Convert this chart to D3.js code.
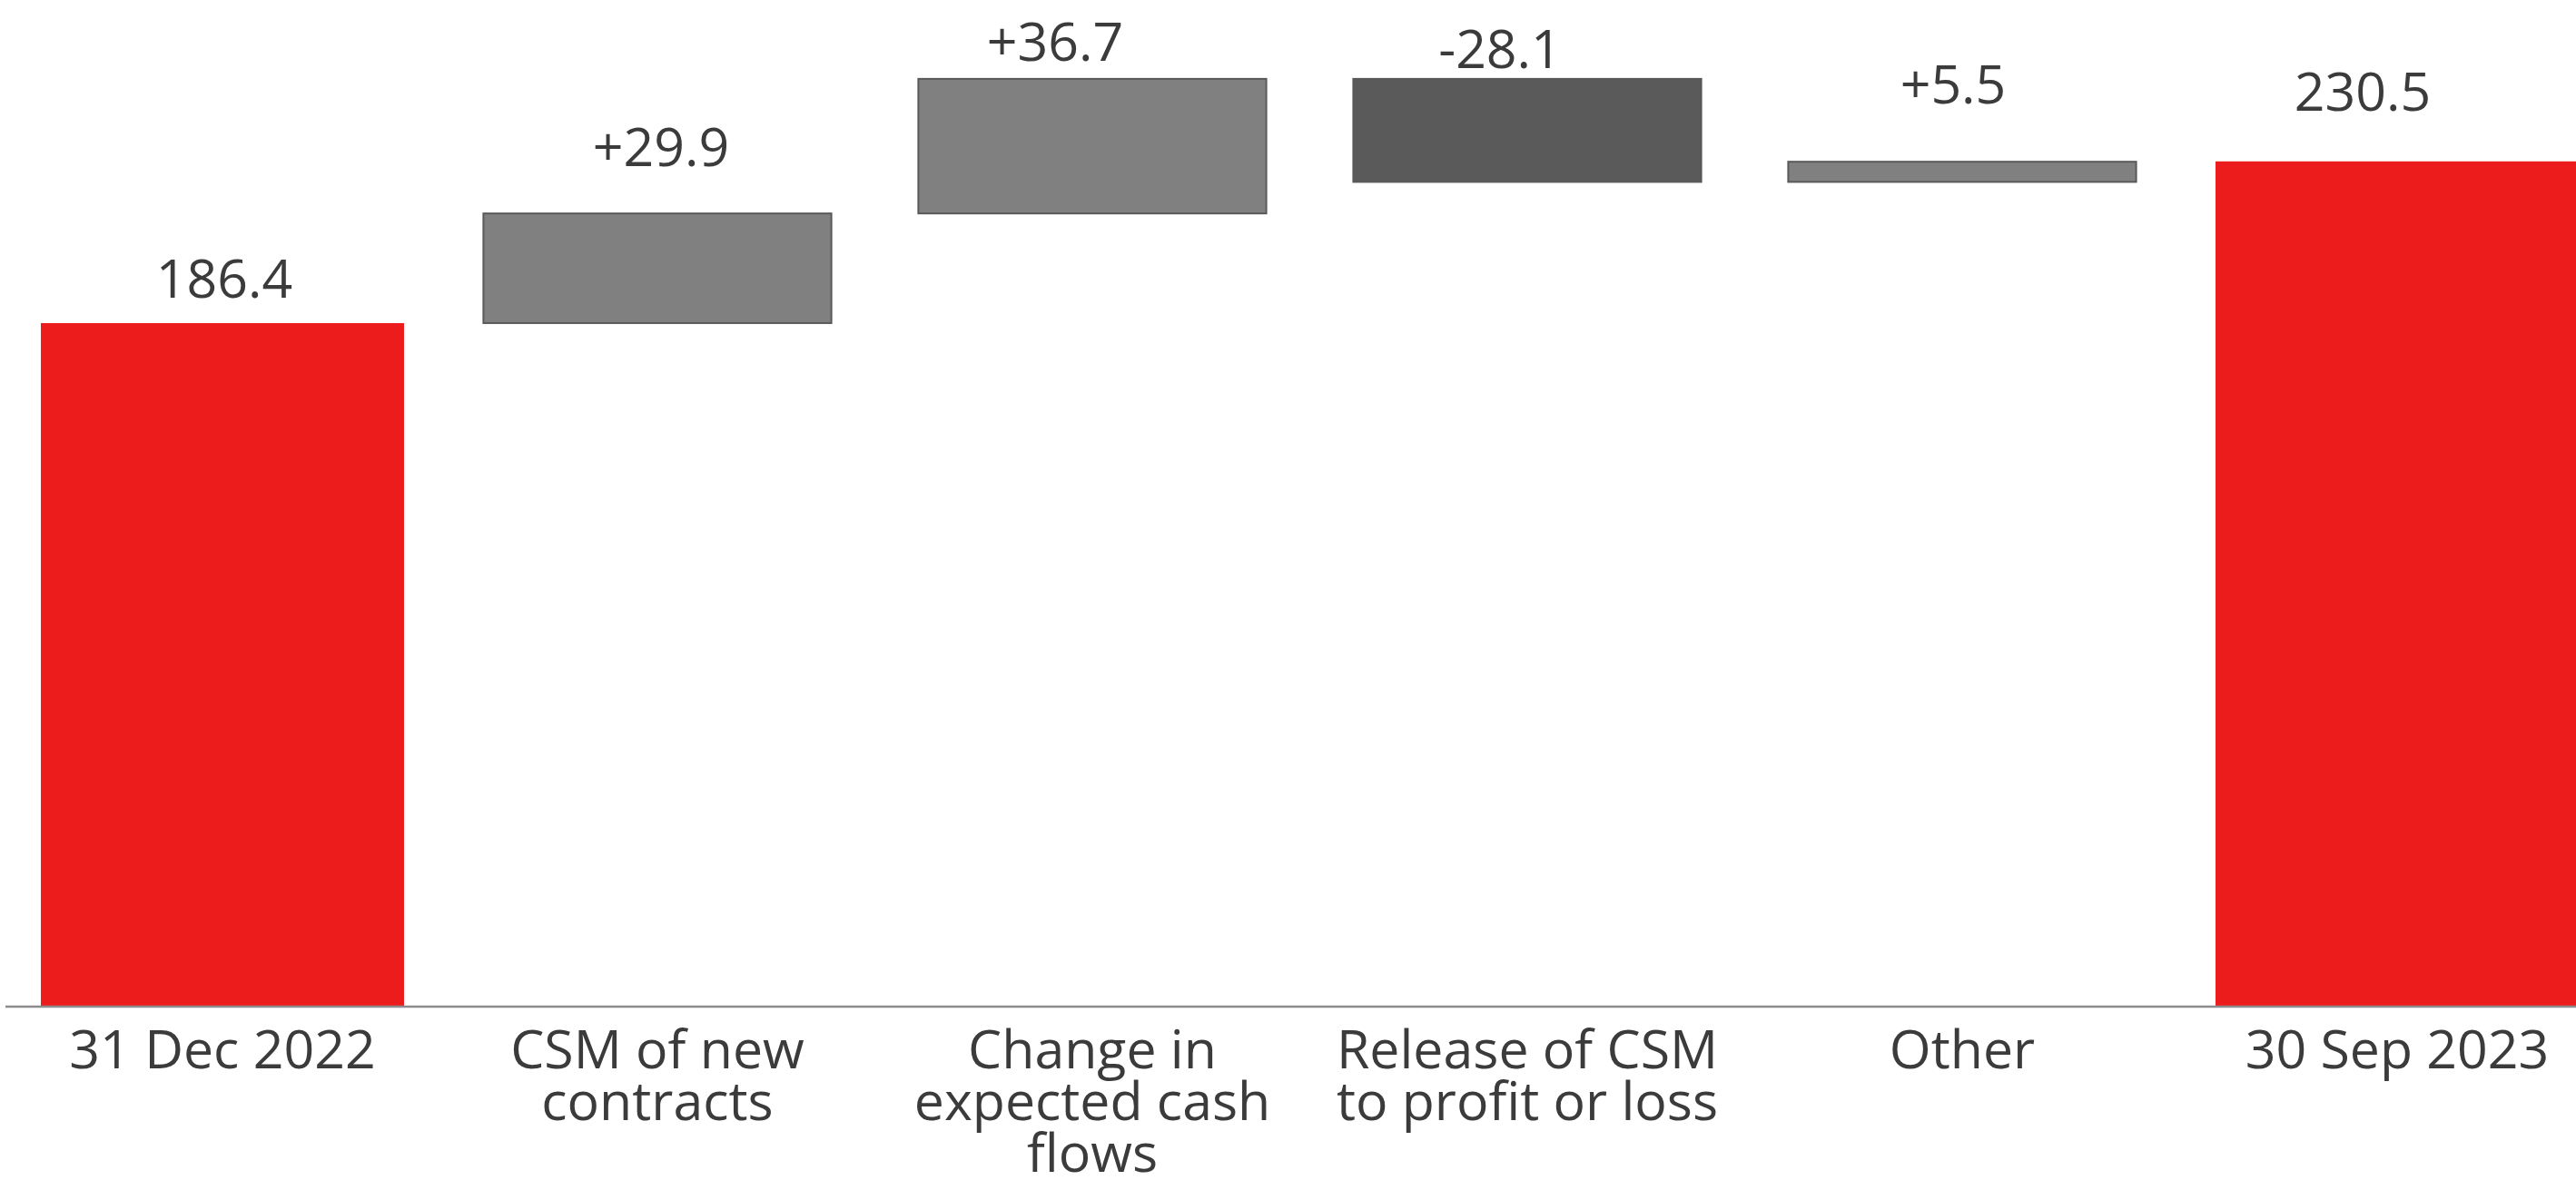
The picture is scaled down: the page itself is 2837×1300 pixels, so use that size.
<!DOCTYPE html>
<html>
<head>
<meta charset="utf-8">
<title>CSM movement</title>
<style>
  body { margin: 0; background: #fff; }
  svg text { font-family: "Open Sans", "Noto Sans", sans-serif; fill: #3b3b3b; }
</style>
</head>
<body>
<div id="chart"></div>
<script src="https://d3js.org/d3.v7.min.js"></script>
<script>
// categories, with the line breaks used on the axis
var categories = ["31 Dec 2022", "CSM of new contracts", "Change in expected cash flows",
                  "Release of CSM to profit or loss", "Other", "30 Sep 2023"];
var categoryLines = [["31 Dec 2022"], ["CSM of new", "contracts"], ["Change in", "expected cash", "flows"],
                     ["Release of CSM", "to profit or loss"], ["Other"], ["30 Sep 2023"]];
var values = [186.4, 29.9, 36.7, -28.1, 5.5, 230.5];
var kinds = ["total", "delta", "delta", "delta", "delta", "total"];
var valueLabels = ["186.4", "+29.9", "+36.7", "-28.1", "+5.5", "230.5"];

// small hand nudges of the value labels (dx from bar centre, gap above bar top)
var labelDx = [2, 4, -41, -30, -10, -38];
var labelGap = [28, 52, 20, 12, 64, 56];

var width = 2837, height = 1300;
var baseY = 1109;

var svg = d3.select("#chart").append("svg")
  .attr("width", width).attr("height", height);

var x = d3.scaleBand().domain(categories).range([5.5, 5.5 + 6 * 479]).padding(0);
var y = d3.scaleLinear().domain([0, 250]).range([baseY, baseY - 1010]);

// running totals for the waterfall
var rows = [];
var run = 0;
categories.forEach(function(c, i){
  var lo, hi;
  if (kinds[i] == "total") {
    lo = 0; hi = values[i]; run = values[i];
  } else {
    var start = run;
    run = run + values[i];
    lo = Math.min(start, run); hi = Math.max(start, run);
  }
  rows.push({cat: c, lo: lo, hi: hi, i: i});
});

function fillOf(d){
  if (kinds[d.i] == "total") return "#ec1c1c";
  if (values[d.i] < 0) return "#5a5a5a";
  return "#808080";
}

var step = x.step();

svg.selectAll(".bar").data(rows).enter().append("rect")
  .attr("class", "bar")
  .attr("x", function(d){
    var w = kinds[d.i] == "total" ? step * 0.835 : step * 0.8;
    return x(d.cat) + step / 2 - w / 2;
  })
  .attr("width", function(d){ return kinds[d.i] == "total" ? step * 0.835 : step * 0.8; })
  .attr("y", function(d){ return y(d.hi); })
  .attr("height", function(d){ return y(d.lo) - y(d.hi); })
  .attr("fill", fillOf)
  .attr("stroke", function(d){ return kinds[d.i] == "total" ? "none" : "#595959"; })
  .attr("stroke-width", 2);

// baseline
svg.append("line")
  .attr("x1", 6).attr("x2", width)
  .attr("y1", baseY).attr("y2", baseY)
  .attr("stroke", "#8c8c8c").attr("stroke-width", 2.5);

// value labels
svg.selectAll(".val").data(rows).enter().append("text")
  .attr("class", "val")
  .attr("text-anchor", "middle")
  .attr("x", function(d){ return x(d.cat) + step / 2 + labelDx[d.i]; })
  .attr("y", function(d){ return y(d.hi) - labelGap[d.i]; })
  .style("font-size", "59px")
  .text(function(d){ return valueLabels[d.i]; });

// category labels
var cat = svg.selectAll(".cat").data(rows).enter().append("text")
  .attr("class", "cat")
  .attr("text-anchor", "middle")
  .attr("x", function(d){ return x(d.cat) + step / 2; })
  .attr("y", 1177)
  .style("font-size", "59px");

cat.selectAll("tspan").data(function(d){ return categoryLines[d.i].map(function(t){ return {t: t, cx: x(d.cat) + step / 2}; }); })
  .enter().append("tspan")
  .attr("x", function(l){ return l.cx; })
  .attr("dy", function(l, j){ return j == 0 ? 0 : 57; })
  .text(function(l){ return l.t; });
</script>
</body>
</html>
